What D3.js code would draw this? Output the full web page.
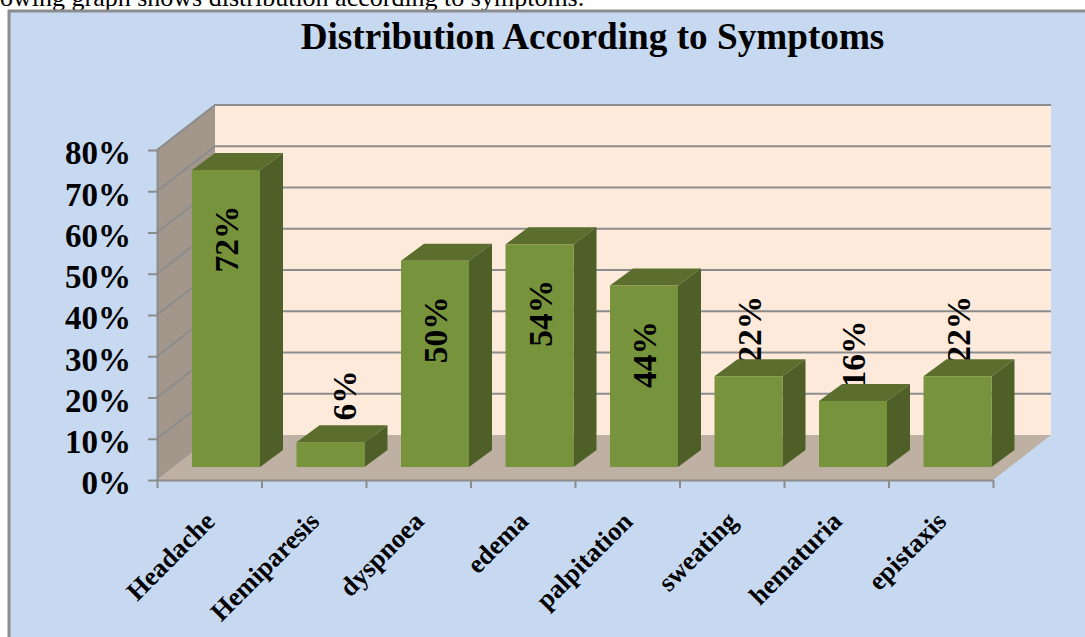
<!DOCTYPE html>
<html>
<head>
<meta charset="utf-8">
<script src="https://cdn.jsdelivr.net/npm/d3@7"></script>
<style>
html, body { margin: 0; padding: 0; background: #fff; overflow: hidden; }
svg { display: block; }
text { font-family: "Liberation Serif", serif; fill: #000; }
</style>
</head>
<body>
<div id="chart"></div>
<script>
const categories = ['Headache', 'Hemiparesis', 'dyspnoea', 'edema', 'palpitation', 'sweating', 'hematuria', 'epistaxis'];
const values = [72, 6, 50, 54, 44, 22, 16, 22];
const y_ticks = [0, 10, 20, 30, 40, 50, 60, 70, 80];

const chart_width = 1085;
const chart_height = 637;
const plot_left = 157;
const plot_right = 993;
const plot_top = 150;
const plot_bottom = 480;
// 3d offset of the back wall, and of the bars
const depth_x = 58;
const depth_y = -45;
const bar_width = 68;
const bar_shift_x = 35;
const bar_shift_y = -13;
const bar_depth_x = 23;
const bar_depth_y = -17;

const svg = d3.select('#chart')
    .append('svg')
    .attr('width', chart_width)
    .attr('height', chart_height);

const x_scale = d3.scaleBand()
    .domain(categories)
    .range([plot_left, plot_right]);

const y_scale = d3.scaleLinear()
    .domain([0, 80])
    .range([plot_bottom, plot_top]);

// only for the tick marks on the band edges
const edge_scale = d3.scaleLinear()
    .domain([0, categories.length])
    .range([plot_left, plot_right]);

const pts = a => a.map(p => p.join(',')).join(' ');

// text cut off by the frame above
svg.append('text')
    .attr('x', 0)
    .attr('y', 6)
    .attr('font-size', 26)
    .text('owing graph shows distribution according to symptoms.');

// chart area
svg.append('rect')
    .attr('x', 9)
    .attr('y', 11)
    .attr('width', 1090)
    .attr('height', 640)
    .attr('fill', '#C6D9F1')
    .attr('stroke', '#8C8C8C')
    .attr('stroke-width', 3);

svg.append('text')
    .attr('x', 592.5)
    .attr('y', 49)
    .attr('text-anchor', 'middle')
    .attr('font-size', 37.2)
    .attr('font-weight', 700)
    .text('Distribution According to Symptoms');

// walls and floor
const y0 = y_scale(0);
const y80 = y_scale(80);
svg.append('rect')
    .attr('x', plot_left + depth_x)
    .attr('y', y80 + depth_y)
    .attr('width', plot_right - plot_left)
    .attr('height', y0 - y80)
    .attr('fill', '#FEEADB');

svg.append('polygon')
    .attr('points', pts([[plot_left, y0], [plot_left, y80], [plot_left + depth_x, y80 + depth_y], [plot_left + depth_x, y0 + depth_y]]))
    .attr('fill', '#A3978C');

svg.append('polygon')
    .attr('points', pts([[plot_left, y0], [plot_right, y0], [plot_right + depth_x, y0 + depth_y], [plot_left + depth_x, y0 + depth_y]]))
    .attr('fill', '#BEB0A2');

// grid lines run over the side wall and along the back wall
const grid = svg.append('g');
grid.selectAll('polyline')
    .data(y_ticks.slice(1))
    .enter()
    .append('polyline')
    .attr('points', d => pts([
        [plot_left, y_scale(d)],
        [plot_left + depth_x, y_scale(d) + depth_y],
        [plot_right + depth_x, y_scale(d) + depth_y]
    ]))
    .attr('fill', 'none')
    .attr('stroke', '#8C8C8C')
    .attr('stroke-width', 2);

const bar_left = c => x_scale(c) + bar_shift_x;
const bar_top = v => y_scale(v) + bar_shift_y;
const bar_base = y_scale(0) + bar_shift_y;

const data = categories.map((c, i) => ({ c: c, v: values[i] }));
const inside = d => d.v >= 30;

function drawLabels(rows) {
    svg.append('g')
        .selectAll('text')
        .data(rows)
        .enter()
        .append('text')
        .attr('transform', d => {
            const lx = bar_left(d.c) + bar_width / 2 + (d.v < 10 ? 14 : 1);
            const ly = bar_top(d.v) + (inside(d) ? 69 : -47);
            return `translate(${lx},${ly}) rotate(-90)`;
        })
        .attr('text-anchor', 'middle')
        .attr('dy', '0.33em')
        .attr('font-size', 33.5)
        .attr('font-weight', 700)
        .text(d => d.v + '%');
}

// labels above the bars sit behind the bar tops
drawLabels(data.filter(d => !inside(d)));

const bars = svg.append('g')
    .selectAll('g')
    .data(data)
    .enter()
    .append('g');

bars.append('polygon')
    .attr('points', d => pts([
        [bar_left(d.c), bar_top(d.v)],
        [bar_left(d.c) + bar_width, bar_top(d.v)],
        [bar_left(d.c) + bar_width + bar_depth_x, bar_top(d.v) + bar_depth_y],
        [bar_left(d.c) + bar_depth_x, bar_top(d.v) + bar_depth_y]
    ]))
    .attr('fill', '#5C6E2D');

bars.append('polygon')
    .attr('points', d => pts([
        [bar_left(d.c) + bar_width, bar_top(d.v)],
        [bar_left(d.c) + bar_width + bar_depth_x, bar_top(d.v) + bar_depth_y],
        [bar_left(d.c) + bar_width + bar_depth_x, bar_base + bar_depth_y],
        [bar_left(d.c) + bar_width, bar_base]
    ]))
    .attr('fill', '#4E5F27');

bars.append('rect')
    .attr('x', d => bar_left(d.c))
    .attr('y', d => bar_top(d.v))
    .attr('width', bar_width)
    .attr('height', d => bar_base - bar_top(d.v))
    .attr('fill', '#77933C');

drawLabels(data.filter(inside));

// axes
const y_axis = svg.append('g')
    .attr('transform', `translate(${plot_left},0)`)
    .call(d3.axisLeft(y_scale).tickValues(y_ticks).tickSize(9).tickSizeOuter(0).tickPadding(17).tickFormat(d => d + '%'));

y_axis.selectAll('text')
    .attr('font-family', '"Liberation Serif", serif')
    .attr('font-size', 33)
    .attr('font-weight', 700)
    .attr('fill', '#000')
    .attr('dy', '0.42em');

const x_axis = svg.append('g')
    .attr('transform', `translate(0,${plot_bottom})`)
    .call(d3.axisBottom(edge_scale).tickValues(d3.range(categories.length + 1)).tickSize(8).tickSizeOuter(0).tickFormat(''));

svg.selectAll('.domain, .tick line')
    .attr('stroke', '#8C8C8C')
    .attr('stroke-width', 2);

svg.append('g')
    .selectAll('text')
    .data(categories)
    .enter()
    .append('text')
    .attr('transform', d => `translate(${x_scale(d) + x_scale.bandwidth() / 2 + 7},${plot_bottom + 43}) rotate(-45)`)
    .attr('text-anchor', 'end')
    .attr('font-size', 26.5)
    .attr('font-weight', 700)
    .text(d => d);
</script>
</body>
</html>
